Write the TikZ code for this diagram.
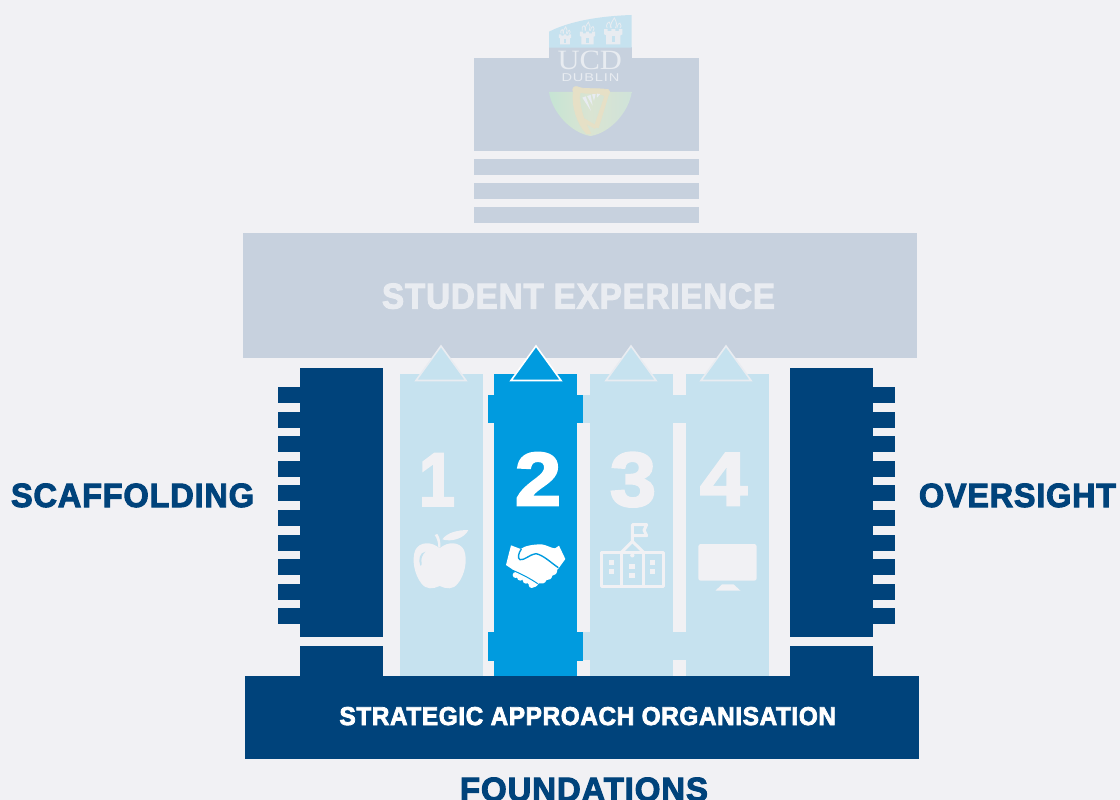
\documentclass[tikz,border=0pt]{standalone}
\usepackage{fontspec}
\usepackage{graphicx}
\setmainfont{Liberation Sans}[BoldFeatures={FakeBold=3}]
\newfontfamily\serifl{Liberation Serif}
\definecolor{bgc}{HTML}{F1F1F4}
\definecolor{topc}{HTML}{C7D1DE}
\definecolor{lightc}{HTML}{C6E2EF}
\definecolor{darkc}{HTML}{00437B}
\definecolor{midc}{HTML}{009BDF}
\definecolor{softc}{HTML}{E9ECF1}
\definecolor{logow}{HTML}{E8ECF1}
\definecolor{harpc}{HTML}{E6E0C6}
\definecolor{greena}{HTML}{C6E4D4}
\definecolor{greenb}{HTML}{CFE3D9}
\definecolor{greenc}{HTML}{DAE4D2}
\newcommand{\fitbox}[3]{\resizebox{#1pt}{#2pt}{\bfseries #3}}
\newcommand{\fitspaced}[3]{\resizebox{#1pt}{#2pt}{\bfseries\addfontfeature{LetterSpace=2.5}#3}}
\tikzset{
  txt/.style={inner sep=0pt,outer sep=0pt,anchor=base west},
  tri/.style={line width=1.6pt,line join=miter},
  flame/.style={draw=logow,line width=0.8pt,fill=none},
  schoolline/.style={draw=bgc,line width=3pt,line join=round},
  pics/castle/.style={code={
    \fill[logow] (-7,0) -- (-7,-9) -- (-9,-10) -- (-9,-15) -- (-5.5,-15) -- (-5.5,-13) -- (-2,-13) -- (-2,-15) -- (2,-15) -- (2,-13) -- (5.5,-13) -- (5.5,-15) -- (9,-15) -- (9,-10) -- (7,-9) -- (7,0) -- cycle;
    \fill[lightc] (-1.7,-2) rectangle (1.7,-8);
    \draw[flame] (-6,-16) .. controls (-8,-19) and (-5,-22) .. (-4,-22) .. controls (-3,-21) and (-2,-18) .. (-3,-16);
    \draw[flame] (-2,-16) .. controls (-4,-20) and (0,-24) .. (1,-26) .. controls (3,-23) and (4,-19) .. (2,-16);
    \draw[flame] (3.5,-16) .. controls (4,-20) and (6,-21) .. (6.5,-21) .. controls (8,-19) and (8,-17) .. (6.5,-16);
  }}
}
\begin{document}
\begin{tikzpicture}[x=1pt,y=-1pt]
\useasboundingbox (0,0) rectangle (1120,800);
\fill[bgc] (0,0) rectangle (1120,800);

% top block
\fill[topc] (474,58) rectangle (699,151);
\foreach \yy in {159,183,207} \fill[topc] (474,\yy) rectangle (699,\yy+16);
\fill[topc] (243,233) rectangle (917,358);
\fill[topc] (549,47) rectangle (632,60);

% logo
\fill[lightc] (549,31.7) .. controls (570,21) and (600,16) .. (631.7,15) -- (631.7,47.7) -- (549,47.7) -- cycle;
\pic[scale=0.68] at (565,44.5) {castle};
\pic[scale=0.86] at (587.5,44.5) {castle};
\pic[scale=1.02] at (613.3,44.5) {castle};
\node[txt,text=logow] (ucd) at (557.5,70) {\resizebox{64.5pt}{18.5pt}{\serifl UCD}};
\node[txt,text=logow] (dublin) at (561.5,81.7) {\resizebox{58pt}{7.8pt}{\addfontfeature{LetterSpace=6}DUBLIN}};
\shade[left color=greena,right color=greenb,middle color=greenc] (549,92) -- (631.7,92) .. controls (629,112) and (610,133) .. (590.5,136) .. controls (571,133) and (552,112) .. (549,92) -- cycle;
\begin{scope}[shift={(545,85)},x=0.3333pt,y=-0.3333pt]
  \fill[harpc,draw=harpc,line width=0.8pt,line join=round] (85,22) .. controls (80,10) and (88,3) .. (96,5) .. controls (115,15) and (150,8) .. (190,14) .. controls (197,18) and (195,25) .. (190,30) -- (160,128) -- (148,125) -- (180,32) .. controls (150,20) and (125,28) .. (105,22) .. controls (100,60) and (115,105) .. (137,145) -- (125,146) .. controls (95,115) and (80,60) .. (85,22) -- cycle;
  \fill[harpc] (118,100) -- (155,122) -- (150,132) -- (120,115) -- cycle;
  \fill[logow] (112,38) -- (122,34) -- (138,78) -- cycle;
  \fill[logow] (126,33) -- (137,30) -- (143,62) -- cycle;
  \fill[logow] (141,28) -- (152,27) -- (147,48) -- cycle;
  \fill[logow] (156,26) -- (166,27) -- (156,38) -- cycle;
\end{scope}

\node[txt,text=softc] (studentexp) at (382,308.5) {\fitspaced{393}{25}{STUDENT EXPERIENCE}};

% columns
\fill[lightc] (400,374) rectangle (483,676);
\fill[lightc] (590,374) rectangle (673,676);
\fill[lightc] (686,374) rectangle (769,676);
\fill[lightc] (583,395) rectangle (686,423);
\fill[lightc] (583,632) rectangle (686,660);
\fill[midc] (494,374) rectangle (577,676);
\fill[midc] (487.5,395) rectangle (583,423);
\fill[midc] (487.5,632) rectangle (583,660.5);

% triangles
\foreach \cx/\fc/\dc in {441/lightc/softc,631/lightc/softc,726/lightc/softc,536/midc/white}
  \draw[tri,fill=\fc,draw=\dc] (\cx-25,380.5) -- (\cx,346) -- (\cx+25,380.5) -- cycle;

% side pillars
\fill[darkc] (300,368) rectangle (383,637);
\fill[darkc] (300,646) rectangle (383,677);
\fill[darkc] (790,368) rectangle (873,637);
\fill[darkc] (790,646) rectangle (873,677);
\foreach \yy in {387,411.6,436.2,460.8,485.4,510,534.6,559.2,583.8,608} {
  \fill[darkc] (278,\yy) rectangle (301,\yy+16);
  \fill[darkc] (872,\yy) rectangle (895,\yy+16);
}
\fill[darkc] (245,676) rectangle (919,759);

% numbers
\node[txt,text=bgc] (n1) at (419,505.7) {\fitbox{36}{52}{1}};
\node[txt,text=white] (n2) at (515,505.2) {\fitbox{46}{52.5}{2}};
\node[txt,text=bgc] (n3) at (610,506) {\fitbox{46}{53.5}{3}};
\node[txt,text=bgc] (n4) at (700,505.2) {\fitbox{47}{52}{4}};

% apple
\begin{scope}[shift={(408,525)},x=0.3333pt,y=-0.3333pt]
  \fill[bgc] (95,70) .. controls (120,48) and (155,50) .. (168,75) .. controls (180,105) and (170,150) .. (150,175) .. controls (135,195) and (115,192) .. (95,183) .. controls (75,192) and (55,195) .. (40,175) .. controls (20,150) and (10,105) .. (22,75) .. controls (35,50) and (70,48) .. (95,70) -- cycle;
  \fill[bgc] (103,43) .. controls (118,22) and (150,15) .. (181,15) .. controls (170,40) and (130,52) .. (103,43) -- cycle;
  \fill[bgc] (80,30) -- (88,27) .. controls (96,38) and (98,52) .. (97,68) -- (91,68) .. controls (91,52) and (87,40) .. (80,30) -- cycle;
  \fill[lightc] (52,80) .. controls (35,82) and (30,105) .. (37,122) .. controls (40,122) and (41,120) .. (41,116) .. controls (38,102) and (42,90) .. (52,80) -- cycle;
\end{scope}

% handshake
\begin{scope}[shift={(500,535)},x=0.3333pt,y=-0.3333pt]
  \fill[white] (33,31) -- (62,42) .. controls (75,32) and (100,28) .. (125,28) .. controls (140,30) and (155,40) .. (165,40) -- (177,32) -- (196,72) -- (178,97) -- (172,104) .. controls (172,115) and (165,122) .. (157,122) .. controls (155,132) and (148,136) .. (140,135) .. controls (135,146) and (125,148) .. (116,145) .. controls (112,155) and (100,160) .. (94,155) -- (40,105) -- (18,90) -- cycle;
  \fill[white] (47,120) circle[radius=9];
  \fill[white] (61,127) circle[radius=10];
  \fill[white] (78,136) circle[radius=10];
  \fill[white] (95,150) circle[radius=9];
  \draw[midc,line width=1.4pt] (64,42) .. controls (55,55) and (52,70) .. (60,74) .. controls (75,76) and (85,60) .. (108,56) .. controls (130,60) and (155,85) .. (175,98);
  \draw[midc,line width=1pt] (38,106) .. controls (60,115) and (90,130) .. (113,146);
\end{scope}

% school
\begin{scope}[shift={(595,518)},x=0.3333pt,y=-0.3333pt]
  \draw[schoolline] (18,102) rectangle (205,207);
  \draw[schoolline] (80,102) -- (80,207) (145,102) -- (145,207);
  \draw[schoolline] (80,102) -- (112,70) -- (145,102);
  \draw[schoolline] (112,70) -- (112,20) -- (155,20) -- (147,37) -- (155,53) -- (112,53);
  \fill[bgc] (112,112) circle[radius=6.5];
  \foreach \wx/\wy in {42/125,42/152,165/125,165/152} \fill[bgc] (\wx,\wy) rectangle (\wx+15,\wy+15);
  \foreach \wy in {138,165} \fill[bgc] (102,\wy) rectangle (120,\wy+15);
\end{scope}

% monitor
\fill[bgc,rounded corners=2.5pt] (698.3,544) rectangle (756.7,580.7);
\fill[bgc] (722,584.3) -- (733.5,584.3) -- (740.5,590.7) -- (715.5,590.7) -- cycle;

% labels
\node[txt,text=darkc] (scaf) at (11,507) {\fitspaced{243}{23.5}{SCAFFOLDING}};
\node[txt,text=darkc] (over) at (919,507) {\fitspaced{197}{23.5}{OVERSIGHT}};
\node[txt,text=darkc] (found) at (460,801) {\fitspaced{248}{23.5}{FOUNDATIONS}};
\node[txt,text=white] (strat) at (339.5,725) {\fitspaced{496.5}{18}{STRATEGIC APPROACH ORGANISATION}};
\end{tikzpicture}
\end{document}
